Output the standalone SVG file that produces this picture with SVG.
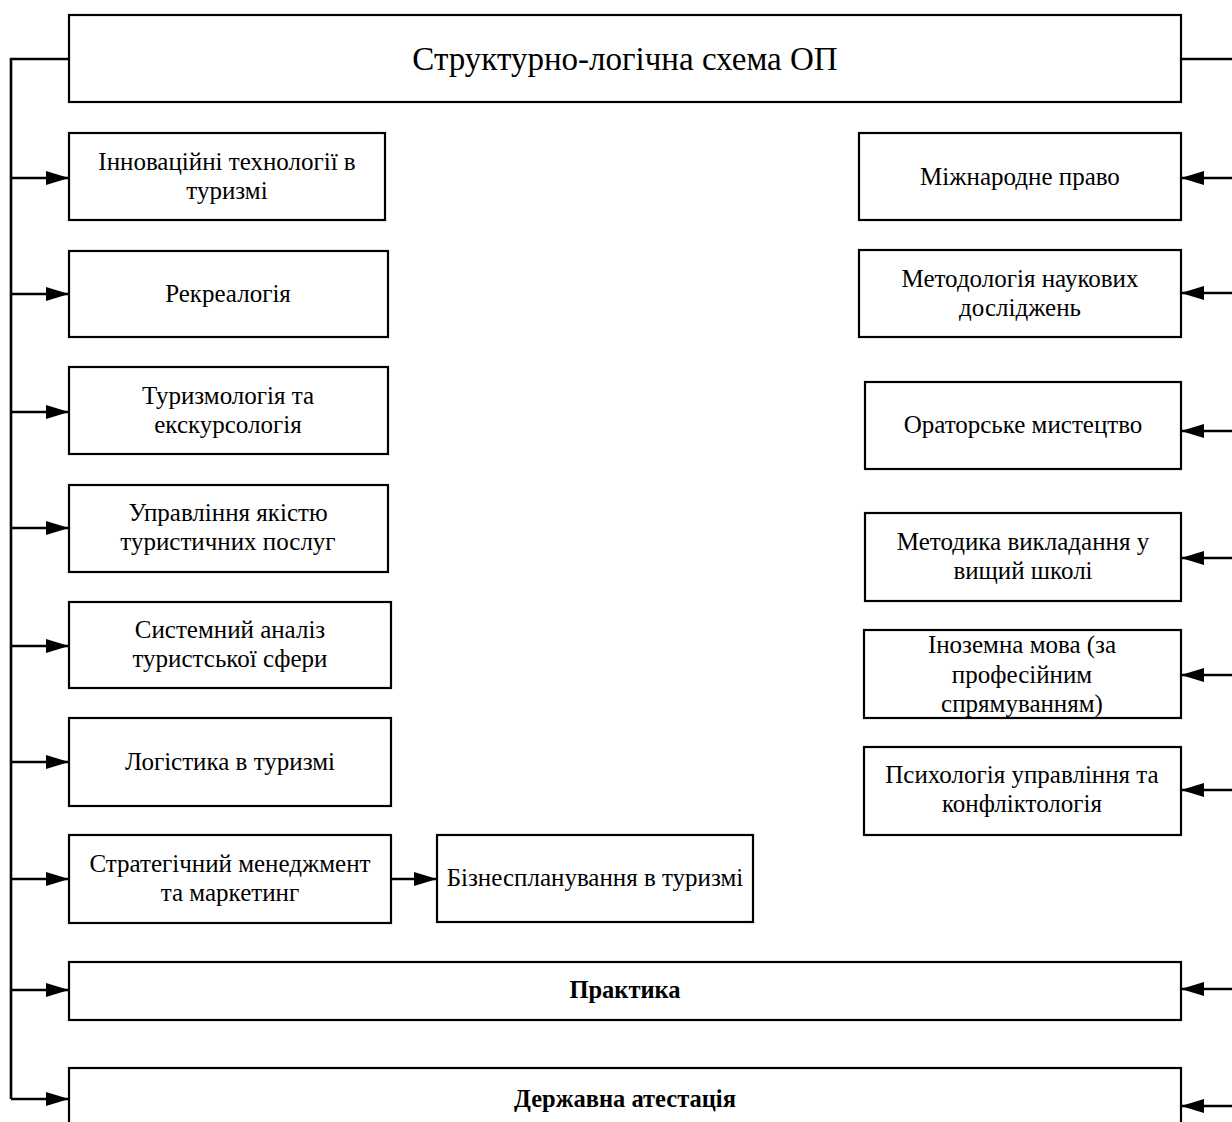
<svg xmlns="http://www.w3.org/2000/svg" width="1232" height="1122" viewBox="0 0 1232 1122">
<style>
.box{fill:#fff;stroke:#000;stroke-width:2.2}
.t{font-family:"Liberation Serif","Times New Roman",serif;font-size:25px;fill:#000;text-anchor:middle}
.ttl{font-size:33px}
.b{font-weight:bold;font-size:24.5px}
.c{fill:none;stroke:#000;stroke-width:2.6}
</style>
<defs>
<marker id="ah" viewBox="0 0 23 14" refX="23" refY="7" markerWidth="23" markerHeight="14" markerUnits="userSpaceOnUse" orient="auto">
<path d="M0,0 L23,7 L0,14 Z" fill="#000"/>
</marker>
</defs>
<g id="connectors">
<polyline class="c" points="69,59 11,59 11,1099"/>
<line class="c" x1="1181" y1="59" x2="1232" y2="59"/>
<line class="c" x1="11" y1="178" x2="69" y2="178" marker-end="url(#ah)"/>
<line class="c" x1="11" y1="294" x2="69" y2="294" marker-end="url(#ah)"/>
<line class="c" x1="11" y1="412" x2="69" y2="412" marker-end="url(#ah)"/>
<line class="c" x1="11" y1="528" x2="69" y2="528" marker-end="url(#ah)"/>
<line class="c" x1="11" y1="646" x2="69" y2="646" marker-end="url(#ah)"/>
<line class="c" x1="11" y1="762" x2="69" y2="762" marker-end="url(#ah)"/>
<line class="c" x1="11" y1="879" x2="69" y2="879" marker-end="url(#ah)"/>
<line class="c" x1="11" y1="990" x2="69" y2="990" marker-end="url(#ah)"/>
<line class="c" x1="11" y1="1099" x2="69" y2="1099" marker-end="url(#ah)"/>
<line class="c" x1="391" y1="879" x2="437" y2="879" marker-end="url(#ah)"/>
<line class="c" x1="1234" y1="178" x2="1181" y2="178" marker-end="url(#ah)"/>
<line class="c" x1="1234" y1="293" x2="1181" y2="293" marker-end="url(#ah)"/>
<line class="c" x1="1234" y1="431" x2="1181" y2="431" marker-end="url(#ah)"/>
<line class="c" x1="1234" y1="558" x2="1181" y2="558" marker-end="url(#ah)"/>
<line class="c" x1="1234" y1="675" x2="1181" y2="675" marker-end="url(#ah)"/>
<line class="c" x1="1234" y1="790" x2="1181" y2="790" marker-end="url(#ah)"/>
<line class="c" x1="1234" y1="989" x2="1181" y2="989" marker-end="url(#ah)"/>
<line class="c" x1="1234" y1="1106" x2="1181" y2="1106" marker-end="url(#ah)"/>
</g>
<g id="title"><rect class="box" x="69" y="15" width="1112" height="87"/><text class="t ttl" x="625" y="70">Структурно-логічна схема ОП</text></g>
<g id="n1"><rect class="box" x="69" y="133" width="316" height="87"/><text class="t" x="227" y="170">Інноваційні технології в</text><text class="t" x="227" y="199">туризмі</text></g>
<g id="n2"><rect class="box" x="69" y="251" width="319" height="86"/><text class="t" x="228" y="302">Рекреалогія</text></g>
<g id="n3"><rect class="box" x="69" y="367" width="319" height="87"/><text class="t" x="228" y="404">Туризмологія та</text><text class="t" x="228" y="433">екскурсологія</text></g>
<g id="n4"><rect class="box" x="69" y="485" width="319" height="87"/><text class="t" x="228" y="521">Управління якістю</text><text class="t" x="228" y="550">туристичних послуг</text></g>
<g id="n5"><rect class="box" x="69" y="602" width="322" height="86"/><text class="t" x="230" y="638">Системний аналіз</text><text class="t" x="230" y="667">туристської сфери</text></g>
<g id="n6"><rect class="box" x="69" y="718" width="322" height="88"/><text class="t" x="230" y="770">Логістика в туризмі</text></g>
<g id="n7"><rect class="box" x="69" y="835" width="322" height="88"/><text class="t" x="230" y="872">Стратегічний менеджмент</text><text class="t" x="230" y="901">та маркетинг</text></g>
<g id="n8"><rect class="box" x="437" y="835" width="316" height="87"/><text class="t" x="595" y="886">Бізнеспланування в туризмі</text></g>
<g id="n9"><rect class="box" x="69" y="962" width="1112" height="58"/><text class="t b" x="625" y="998">Практика</text></g>
<g id="n10"><rect class="box" x="69" y="1068" width="1112" height="70"/><text class="t b" x="625" y="1107">Державна атестація</text></g>
<g id="r1"><rect class="box" x="859" y="133" width="322" height="87"/><text class="t" x="1020" y="185">Міжнародне право</text></g>
<g id="r2"><rect class="box" x="859" y="250" width="322" height="87"/><text class="t" x="1020" y="287">Методологія наукових</text><text class="t" x="1020" y="316">досліджень</text></g>
<g id="r3"><rect class="box" x="865" y="382" width="316" height="87"/><text class="t" x="1023" y="433">Ораторське мистецтво</text></g>
<g id="r4"><rect class="box" x="865" y="513" width="316" height="88"/><text class="t" x="1023" y="550">Методика викладання у</text><text class="t" x="1023" y="579">вищий школі</text></g>
<g id="r5"><rect class="box" x="864" y="630" width="317" height="88"/><text class="t" x="1022" y="653">Іноземна мова (за</text><text class="t" x="1022" y="683">професійним</text><text class="t" x="1022" y="712">спрямуванням)</text></g>
<g id="r6"><rect class="box" x="864" y="747" width="317" height="88"/><text class="t" x="1022" y="783">Психологія управління та</text><text class="t" x="1022" y="812">конфліктологія</text></g>
</svg>
